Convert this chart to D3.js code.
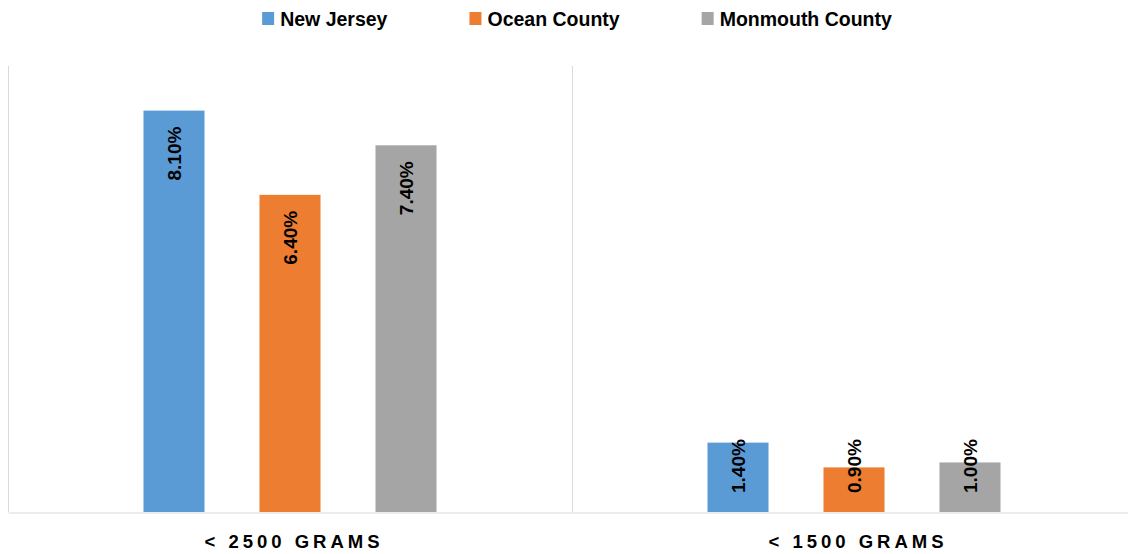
<!DOCTYPE html>
<html>
<head>
<meta charset="utf-8">
<script src="https://cdn.jsdelivr.net/npm/d3@7"></script>
<style>
  body { margin: 0; background: #fff; }
  text { font-family: "Liberation Sans", Arial, sans-serif; font-weight: bold; }
</style>
</head>
<body>
<script>
// Donnees
const categories = ['< 2500 GRAMS', '< 1500 GRAMS'];
const seriesNames = ['New Jersey', 'Ocean County', 'Monmouth County'];
const newJersey = [8.1, 1.4];
const oceanCounty = [6.4, 0.9];
const monmouthCounty = [7.4, 1.0];
const colors = ['#5B9BD5', '#ED7D31', '#A5A5A5'];

const seriesValues = [newJersey, oceanCounty, monmouthCounty];

const width = 1128, height = 554;
const svg = d3.select('body').append('svg')
    .attr('width', width)
    .attr('height', height);

// Echelles
const x0 = d3.scaleBand().domain(categories).range([8, 1136]);
const x1 = d3.scaleBand().domain(seriesNames)
    .range([0, x0.bandwidth()])
    .paddingInner(0.474)
    .paddingOuter(1.168);
const y = d3.scaleLinear().domain([0, 9]).range([512, 66]);

// Lignes verticales de separation
svg.append('g').selectAll('line')
    .data(categories)
    .join('line')
    .attr('x1', d => Math.round(x0(d)) + 0.5)
    .attr('x2', d => Math.round(x0(d)) + 0.5)
    .attr('y1', y(9))
    .attr('y2', y(0))
    .attr('stroke', '#d9d9d9')
    .attr('stroke-width', 1);

// Axe horizontal
const axis = svg.append('g')
    .attr('transform', `translate(0,${y(0) + 0.5})`)
    .call(d3.axisBottom(x0).tickSize(0).tickPadding(22));
axis.select('.domain').attr('stroke', '#d9d9d9');
axis.selectAll('.tick text')
    .attr('font-size', 18.5)
    .attr('font-family', '"Liberation Sans", Arial, sans-serif')
    .attr('font-weight', 'bold')
    .attr('fill', '#000')
    .style('letter-spacing', '4px')
    .attr('dx', '4px');

// Barres
const rows = categories.map((c, i) => ({
  category: c,
  values: seriesNames.map((s, j) => ({ series: s, value: seriesValues[j][i], color: colors[j] }))
}));

const groups = svg.append('g').selectAll('g')
    .data(rows)
    .join('g')
    .attr('transform', d => `translate(${x0(d.category)},0)`);

groups.selectAll('rect')
    .data(d => d.values)
    .join('rect')
    .attr('x', d => x1(d.series))
    .attr('y', d => y(d.value))
    .attr('width', x1.bandwidth())
    .attr('height', d => y(0) - y(d.value))
    .attr('fill', d => d.color);

// Etiquettes de valeurs, verticales
groups.selectAll('text.label')
    .data(d => d.values)
    .join('text')
    .attr('class', 'label')
    .attr('font-size', 19)
    .attr('fill', '#000')
    .attr('text-anchor', 'end')
    .attr('dy', '0.36em')
    .text(d => d.value.toFixed(2) + '%')
    .each(function (d) {
      const len = this.getComputedTextLength();
      const cx = x1(d.series) + x1.bandwidth() / 2;
      const yEnd = Math.min(y(d.value) + 16, y(0) - 19 - len);
      d3.select(this).attr('transform', `translate(${cx},${yEnd}) rotate(-90)`);
    });

// Legende
const legend = svg.append('g');
let lx = 0;
seriesNames.forEach((s, i) => {
  const item = legend.append('g').attr('transform', `translate(${lx},0)`);
  item.append('rect')
      .attr('x', 0)
      .attr('y', 12)
      .attr('width', 12)
      .attr('height', 13)
      .attr('fill', colors[i]);
  const t = item.append('text')
      .attr('x', 18)
      .attr('y', 25.5)
      .attr('font-size', 19.5)
      .attr('fill', '#000')
      .text(s);
  lx += 18 + t.node().getComputedTextLength() + 82;
});
const legendWidth = lx - 82;
legend.attr('transform', `translate(${577 - legendWidth / 2},0)`);
</script>
</body>
</html>
